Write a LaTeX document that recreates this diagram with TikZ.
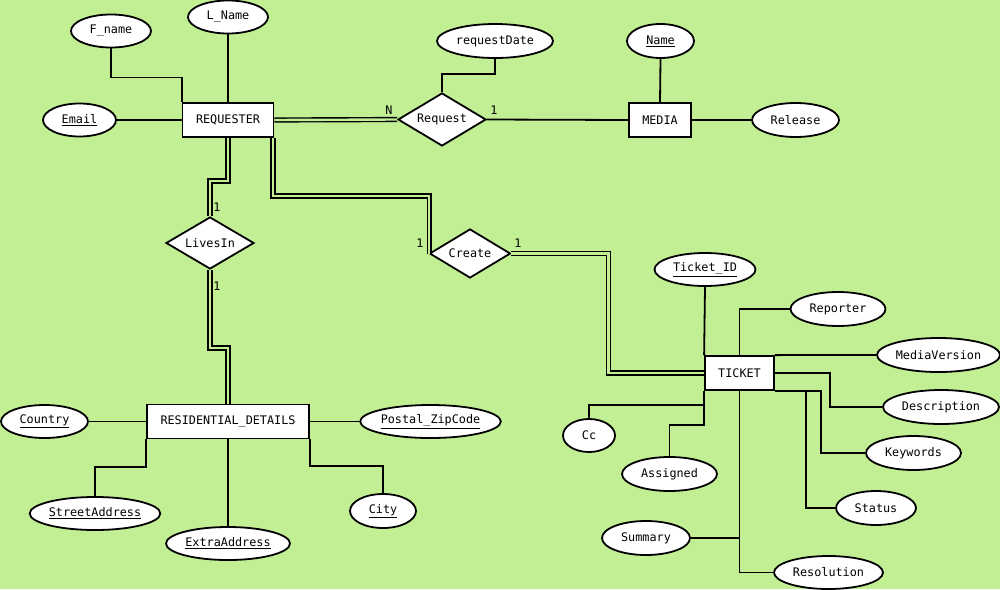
\documentclass[tikz,border=0pt]{standalone}
\usepackage{fontspec}
\setmonofont{DejaVu Sans Mono}
\usetikzlibrary{shapes.geometric}

\definecolor{bggreen}{RGB}{195,239,148}

\tikzset{
  entity/.style={draw,fill=white,rectangle,inner sep=0pt,minimum height=34pt},
  attr/.style={draw,fill=white,ellipse,inner sep=0pt,minimum height=33pt},
  rel/.style={draw,fill=white,diamond,aspect=1.8,inner sep=0pt},
  card/.style={inner sep=0pt},
  dbl/.style={double=bggreen,double distance=2.4pt,line width=1.4pt},
}

\begin{document}
\begin{tikzpicture}[x=1pt,y=-1pt,line width=1.8pt,line join=miter,
    every node/.style={font=\ttfamily\fontsize{11.8}{13}\selectfont}]

% background
  \fill[bggreen] (0,0) rectangle (1000,589);
  \useasboundingbox (0,0) rectangle (1000,589);

% entities
  \node[entity,minimum width=91pt]  (requester) at (228,120) {REQUESTER};
  \node[entity,minimum width=62pt]  (media)     at (660,120) {MEDIA};
  \node[entity,minimum width=162pt] (resid)     at (228,421.5) {RESIDENTIAL\_DETAILS};
  \node[entity,minimum width=69pt]  (ticket)    at (739.5,373) {TICKET};

% relationships
  \node[rel,minimum width=88pt,minimum height=53pt] (request) at (442,119.5) {Request};
  \node[rel,minimum width=88pt,minimum height=52pt] (livesin) at (210,243) {LivesIn};
  \node[rel,minimum width=81pt,minimum height=49pt] (create)  at (470,253.5) {Create};

% attributes of REQUESTER and MEDIA
  \node[attr,minimum width=80pt]  (fname)   at (111,31)  {F\_name};
  \node[attr,minimum width=80pt]  (lname)   at (228,17)  {L\_Name};
  \node[attr,minimum width=73pt]  (email)   at (79.5,120) {\underline{Email}};
  \node[attr,minimum width=116pt,minimum height=34pt] (reqdate) at (495,41) {requestDate};
  \node[attr,minimum width=67pt,minimum height=34pt]  (mname)   at (660.5,41) {\underline{Name}};
  \node[attr,minimum width=87pt,minimum height=34pt]  (release) at (795.5,120) {Release};

% attributes of RESIDENTIAL_DETAILS
  \node[attr,minimum width=87pt]  (country) at (44.5,421.5) {\underline{Country}};
  \node[attr,minimum width=137pt] (postal)  at (430.5,421.5) {\underline{Postal\_ZipCode}};
  \node[attr,minimum width=130pt] (street)  at (95,513.5) {\underline{StreetAddress}};
  \node[attr,minimum width=124pt] (extra)   at (228,543.5) {\underline{ExtraAddress}};
  \node[attr,minimum width=66pt,minimum height=34pt] (city) at (383,511) {\underline{City}};

% attributes of TICKET
  \node[attr,minimum width=101pt] (ticketid)   at (705,269.5) {\underline{Ticket\_ID}};
  \node[attr,minimum width=95pt,minimum height=34pt]  (reporter)   at (838,309) {Reporter};
  \node[attr,minimum width=123pt,minimum height=34pt] (mversion)   at (938.5,355) {MediaVersion};
  \node[attr,minimum width=116pt,minimum height=34pt] (descr)      at (941,407) {Description};
  \node[attr,minimum width=95pt,minimum height=34pt]  (keywords)   at (913.5,453) {Keywords};
  \node[attr,minimum width=80pt,minimum height=34pt]  (status)     at (876,508) {Status};
  \node[attr,minimum width=109pt] (resolution) at (828.5,572.5) {Resolution};
  \node[attr,minimum width=88pt,minimum height=34pt]  (summary)    at (646,538) {Summary};
  \node[attr,minimum width=95pt,minimum height=34pt]  (assigned)   at (669.5,474) {Assigned};
  \node[attr,minimum width=52pt]  (cc)         at (589,435.5) {Cc};

% REQUESTER links
  \draw (fname.south) -- ++(0,29) -| (requester.north west);
  \draw (lname.south) -- (requester.north);
  \draw (email.east) -- (requester.west);
  \draw[dbl] (requester.east) -- (request.west);
  \draw (request.north) -- ++(0,-18) -| (reqdate.south);
  \draw (request.east) -- (media.west);
  \draw (mname.south) -- (media.north);
  \draw (media.east) -- (release.west);
  \draw[dbl] (requester.south) -- ++(0,43) -| (livesin.north);
  \draw[dbl] (livesin.south) -- ++(0,78) -| (resid.north);
  \draw[dbl] ([xshift=-1.5pt]requester.south east) -- ++(0,58) -| ([xshift=0.5pt]create.west);
  \draw[dbl] (create.east) -- ++(97,0) |- (ticket.west);

% cardinalities
  \node[card] (cardN)  at (389,110) {N};
  \node[card] (card1a) at (494,110) {1};
  \node[card] (card1b) at (217,207) {1};
  \node[card] (card1c) at (217,286) {1};
  \node[card] (card1d) at (420,243) {1};
  \node[card] (card1e) at (518,243) {1};

% RESIDENTIAL_DETAILS links
  \draw (country.east) -- (resid.west);
  \draw (resid.east) -- (postal.west);
  \draw (street.north) -- ++(0,-29) -| (resid.south west);
  \draw (extra.north) -- (resid.south);
  \draw (city.north) -- ++(0,-27) -| (resid.south east);

% TICKET links
  \draw (ticketid.south) -- (ticket.north west);
  \draw (reporter.west) -| (ticket.north);
  \draw (ticket.north east) -- (mversion.west);
  \draw (ticket.east) -- ++(55,0) |- (descr.west);
  \draw (ticket.south east) -- ++(46,0) |- (keywords.west);
  \draw ([xshift=31pt]ticket.south east) |- (status.west);
  \draw (ticket.south) |- (resolution.west);
  \draw (summary.east) -- (summary.east -| ticket.south);
  \draw (ticket.south west) -- ++(0,14) -| (cc.north);
  \draw (ticket.south west) -- ++(0,34) -| (assigned.north);

\end{tikzpicture}
\end{document}
